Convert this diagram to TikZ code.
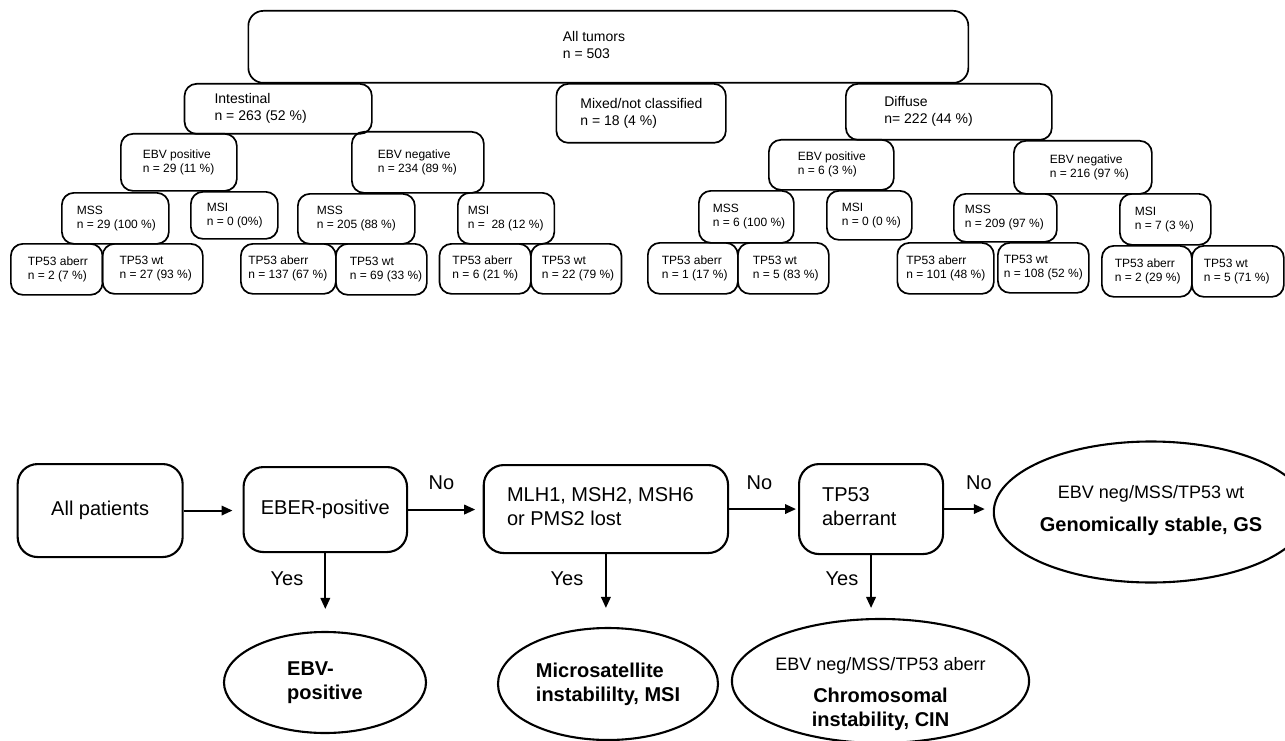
\documentclass[tikz,border=0pt]{standalone}
\usepackage{fontspec}
\setmainfont{Liberation Sans}
\usetikzlibrary{shapes.geometric,arrows.meta}
% box given by corners (x1,y1)-(x2,y2), text left-aligned at x1+pad
\newcommand\BX[8]{\node[#1, anchor=north west, minimum width={#5-#3}, minimum height={#6-#4}, inner xsep=#7, inner ysep=0pt] (#2) at (#3,#4) {\makebox[\dimexpr#5pt-#3pt-#7pt-#7pt\relax][l]{\begin{tabular}{@{}l@{}}#8\end{tabular}}};}
\begin{document}
\begin{tikzpicture}[x=1pt,y=-1pt,
  tb/.style={draw, line width=1.7pt, rounded corners=12pt},
  tA/.style={font=\fontsize{14}{17}\selectfont},
  tB/.style={font=\fontsize{12}{14}\selectfont},
  bb/.style={draw, line width=2.1pt, rounded corners=20pt, font=\fontsize{20}{24}\selectfont},
  ell/.style={draw, ellipse, line width=2.1pt, inner sep=0pt, font=\fontsize{20}{24}\selectfont},
  lab/.style={font=\fontsize{20}{24}\selectfont, inner sep=0pt},
  arr/.style={line width=2pt, -{Triangle[length=11pt,width=9.5pt]}}]
\useasboundingbox (0,0) rectangle (1285,741);
% ---------- top tree ----------
\BX{tb,tA,rounded corners=15pt}{all}{247.5}{10}{967.5}{82}{314.5}{All tumors\\n = 503}
\BX{tb,tA}{int}{183.7}{83}{371}{133}{30}{Intestinal\\n = 263 (52 \%)}
\BX{tb,tA}{mix}{555.5}{83}{725}{142}{24}{Mixed/not classified\\n = 18 (4 \%)}
\BX{tb,tA}{dif}{845}{83}{1051}{139}{38.5}{Diffuse\\n= 222 (44 \%)}
% level 2
\BX{tb,tB}{ebvpI}{120}{133}{236}{190}{22}{EBV positive\\n = 29 (11 \%)}
\BX{tb,tB}{ebvnI}{351}{131}{483}{192}{26}{EBV negative\\n = 234 (89 \%)}
\BX{tb,tB}{ebvpD}{768}{139}{893}{189}{29}{EBV positive\\n = 6 (3 \%)}
\BX{tb,tB}{ebvnD}{1013}{140}{1151}{193}{36}{EBV negative\\n = 216 (97 \%)}
% level 3
\BX{tb,tB}{mssIp}{61}{192}{168}{243}{15}{MSS\\n = 29 (100 \%)}
\BX{tb,tB}{msiIp}{190}{191}{277}{238}{16}{MSI\\n = 0 (0\%)}
\BX{tb,tB}{mssIn}{297}{193}{414}{243}{19}{MSS\\n = 205 (88 \%)}
\BX{tb,tB}{msiIn}{457}{192}{553.5}{243}{10}{MSI\\n =~~28 (12 \%)}
\BX{tb,tB}{mssDp}{698}{190}{793}{242}{14}{MSS\\n = 6 (100 \%)}
\BX{tb,tB}{msiDp}{826}{190}{911}{239}{15}{MSI\\n = 0 (0 \%)}
\BX{tb,tB}{mssDn}{953}{193}{1056}{241}{11}{MSS\\n = 209 (97 \%)}
\BX{tb,tB}{msiDn}{1119}{193}{1210}{244}{15}{MSI\\n = 7 (3 \%)}
% level 4
\BX{tb,tB}{aI1}{10}{243}{101.7}{294}{17}{TP53 aberr\\n = 2 (7 \%)}
\BX{tb,tB}{wI1}{101.7}{243}{202}{293}{17}{TP53 wt\\n = 27 (93 \%)}
\BX{tb,tB}{aI2}{240}{243}{335}{293}{7.5}{TP53 aberr\\n = 137 (67 \%)}
\BX{tb,tB}{wI2}{335}{243}{426}{294}{14}{TP53 wt\\n = 69 (33 \%)}
\BX{tb,tB}{aI3}{438.6}{243}{530}{293}{13}{TP53 aberr\\n = 6 (21 \%)}
\BX{tb,tB}{wI3}{530}{243}{620.6}{293}{11}{TP53 wt\\n = 22 (79 \%)}
\BX{tb,tB}{aD1}{647}{242}{737}{293}{14}{TP53 aberr\\n = 1 (17 \%)}
\BX{tb,tB}{wD1}{737}{242}{828}{293}{15}{TP53 wt\\n = 5 (83 \%)}
\BX{tb,tB}{aD2}{896.5}{242}{993}{293}{9}{TP53 aberr\\n = 101 (48 \%)}
\BX{tb,tB}{wD2}{997}{242}{1088}{292}{6}{TP53 wt\\n = 108 (52 \%)}
\BX{tb,tB}{aD3}{1101}{245}{1191}{296}{13}{TP53 aberr\\n = 2 (29 \%)}
\BX{tb,tB}{wD3}{1191}{245}{1283}{296}{12}{TP53 wt\\n = 5 (71 \%)}
% ---------- bottom flowchart ----------
\node[bb, anchor=north west, minimum width=165, minimum height=93] (ap) at (16.6,463) {All patients};
\node[bb, anchor=north west, minimum width=163.5, minimum height=85] (eber) at (242.5,466) {EBER-positive};
\BX{bb}{mlh}{482.7}{464}{727}{552}{23.3}{MLH1, MSH2, MSH6\\or PMS2 lost}
\BX{bb}{tp}{798}{463}{942}{553}{23}{TP53\\aberrant}
\node[ell, minimum width=202, minimum height=101, align=left, font=\fontsize{20}{24}\selectfont\bfseries] (ebv) at (325,682.5) {EBV-\\positive};
\node[ell, minimum width=220, minimum height=112, align=left, font=\fontsize{20}{24}\selectfont\bfseries] (msi) at (608,684) {Microsatellite\\instabililty, MSI};
\node[ell, minimum width=261, minimum height=124] (cin) at (880.5,681) {\raisebox{-18pt}[0pt][0pt]{\begin{tabular}{@{}c@{}}{\fontsize{18}{22}\selectfont EBV neg/MSS/TP53 aberr}\\[8pt]\textbf{Chromosomal}\\\textbf{instability, CIN}\end{tabular}}};
\node[ell, minimum width=261, minimum height=141] (gs) at (1151,512) {\raisebox{-3pt}[0pt][0pt]{\begin{tabular}{@{}c@{}}{\fontsize{18}{22}\selectfont EBV neg/MSS/TP53 wt}\\[9pt]\textbf{Genomically stable, GS}\end{tabular}}};
% arrows
\draw[arr, shorten >=10pt] (ap.east) -- (ap.east -| eber.west);
\draw[arr, shorten >=7.5pt] (eber.east) -- (eber.east -| mlh.west);
\draw[arr, shorten >=2pt] (mlh.east) -- (mlh.east -| tp.west);
\draw[arr, shorten >=8pt] (tp.east) -- (tp.east -| gs.west);
\draw[arr, shorten >=22pt] (eber.south) -- (eber.south |- ebv.north);
\draw[arr, shorten >=19pt] (mlh.south) -- (mlh.south |- msi.north);
\draw[arr, shorten >=10pt] (tp.south) -- (tp.south |- cin.north);
% labels
\node[lab] (no1) at (441.5,483) {No};
\node[lab] (no2) at (759.5,483) {No};
\node[lab] (no3) at (979,483) {No};
\node[lab] (yes1) at (287,579) {Yes};
\node[lab] (yes2) at (567,579) {Yes};
\node[lab] (yes3) at (842,579) {Yes};
\end{tikzpicture}
\end{document}
